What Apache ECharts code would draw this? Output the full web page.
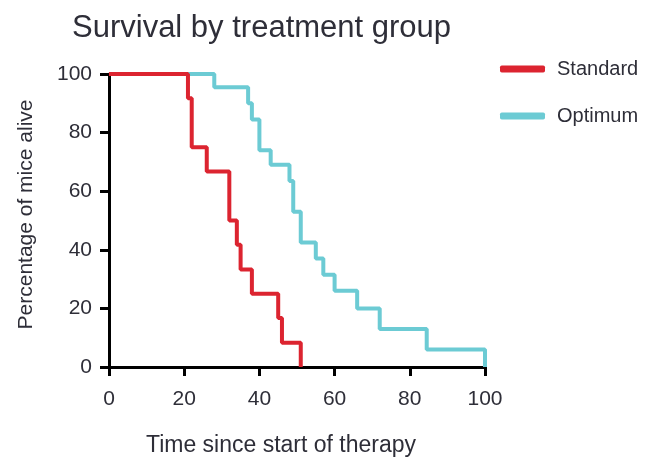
<!DOCTYPE html>
<html>
<head>
<meta charset="utf-8">
<script src="https://cdn.jsdelivr.net/npm/echarts@6/dist/echarts.min.js"></script>
<style>html,body{margin:0;padding:0;background:#fff}#c{width:652px;height:462px}</style>
</head>
<body>
<div id="c"></div>
<script>
var titleText = 'Survival by treatment group';
var xName = 'Time since start of therapy';
var yName = 'Percentage of mice alive';
var seriesNames = ['Standard', 'Optimum'];
var standardTimes = [0, 21, 22, 26, 32, 34, 35, 38, 45, 46, 51];
var standardSurvival = [100, 91.7, 75, 66.7, 50, 41.7, 33.3, 25, 16.7, 8.3, 0];
var optimumTimes = [0, 28, 37, 38, 40, 43, 48, 49, 51, 55, 57, 60, 66, 72, 84.5, 100];
var optimumSurvival = [100, 95.5, 90, 84.5, 74, 69, 63.5, 53, 42.5, 37, 31.5, 26, 20, 13, 6, 0];
var xTicks = [0, 20, 40, 60, 80, 100];
var yTicks = [0, 20, 40, 60, 80, 100];

function pairs(xs, ys) { return xs.map(function (x, i) { return [x, ys[i]]; }); }

var FONT = '"Liberation Sans", Arial, sans-serif';
var chart = echarts.init(document.getElementById('c'), null, { renderer: 'canvas' });
chart.setOption({
  backgroundColor: '#fff',
  animation: false,
  title: {
    text: titleText, left: 67, top: 8,
    textStyle: { fontFamily: FONT, fontSize: 31, fontWeight: 'normal', color: '#2e2e38' }
  },
  legend: {
    data: seriesNames, orient: 'vertical', left: 495, top: 54,
    icon: 'roundRect', itemWidth: 45, itemHeight: 7, itemGap: 27,
    textStyle: { fontFamily: FONT, fontSize: 20, color: '#2e2e38', padding: [0, 0, 0, 7] }
  },
  grid: { left: 109, right: 167, top: 74, bottom: 88, containLabel: false },
  xAxis: {
    type: 'value', min: xTicks[0], max: xTicks[xTicks.length - 1], interval: 20,
    name: xName, nameLocation: 'middle', nameGap: 67,
    nameTextStyle: { fontFamily: FONT, fontSize: 23, color: '#2e2e38', padding: [0, 32, 0, 0] },
    axisLine: { lineStyle: { color: '#000', width: 3 } },
    axisTick: { length: 9, lineStyle: { color: '#000', width: 3 } },
    axisLabel: { margin: 22, fontFamily: FONT, fontSize: 21, color: '#2e2e38' },
    splitLine: { show: false }
  },
  yAxis: {
    type: 'value', min: yTicks[0], max: yTicks[yTicks.length - 1], interval: 20,
    name: yName, nameLocation: 'middle', nameGap: 72,
    nameTextStyle: { fontFamily: FONT, fontSize: 21, color: '#2e2e38', padding: [0, 0, 0, 12] },
    axisLine: { lineStyle: { color: '#000', width: 3 } },
    axisTick: { length: 9, lineStyle: { color: '#000', width: 3 } },
    axisLabel: { margin: 17, fontFamily: FONT, fontSize: 21, color: '#2e2e38' },
    splitLine: { show: false }
  },
  series: [
    {
      name: seriesNames[1], type: 'line', step: 'end', symbol: 'none', clip: false, z: 2,
      data: pairs(optimumTimes, optimumSurvival),
      lineStyle: { color: '#6ccbd4', width: 4 }, itemStyle: { color: '#6ccbd4' }
    },
    {
      name: seriesNames[0], type: 'line', step: 'end', symbol: 'none', clip: false, z: 3,
      data: pairs(standardTimes, standardSurvival),
      lineStyle: { color: '#dc2430', width: 4 }, itemStyle: { color: '#dc2430' }
    }
  ]
});
</script>
</body>
</html>
